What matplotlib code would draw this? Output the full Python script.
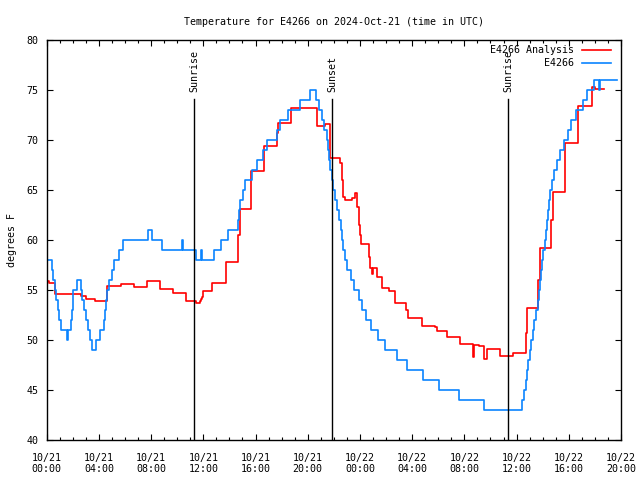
import matplotlib
matplotlib.use("Agg")
import matplotlib.pyplot as plt
from matplotlib.ticker import MultipleLocator

# hours since 2024-10-21 00:00 UTC
obs_hours = [0.00, 0.41, 0.52, 0.64, 0.71, 0.83, 0.97, 1.10, 1.56, 1.66, 1.89, 1.94, 1.98, 2.02,
             2.32, 2.61, 2.70, 2.86, 3.01, 3.16, 3.32, 3.45, 3.78, 4.08, 4.39, 4.47, 4.54, 4.64,
             4.77, 5.00, 5.18, 5.52, 5.87, 7.79, 8.05, 8.81, 10.34, 10.42, 11.42, 11.82, 11.92,
             12.84, 13.36, 13.87, 14.64, 14.71, 14.79, 15.02, 15.20, 15.71, 16.09, 16.60, 16.90,
             17.62, 17.88, 18.51, 19.41, 20.18, 20.64, 20.87, 21.10, 21.25, 21.46, 21.53, 21.61,
             21.71, 21.82, 21.96, 22.11, 22.27, 22.42, 22.53, 22.61, 22.73, 22.86, 23.03, 23.32,
             23.57, 23.95, 24.14, 24.44, 24.83, 25.36, 25.95, 26.82, 27.59, 28.84, 30.08, 31.62,
             33.53, 36.42, 36.57, 36.69, 36.77, 36.88, 37.00, 37.11, 37.23, 37.34, 37.49, 37.61,
             37.69, 37.76, 37.84, 37.93, 38.03, 38.15, 38.26, 38.34, 38.41, 38.49, 38.57, 38.72,
             38.87, 39.08, 39.33, 39.66, 39.92, 40.15, 40.56, 41.07, 41.43, 41.96, 42.28, 42.40,
             43.72]
obs_temps = [58, 57, 56, 55, 54, 53, 52, 51, 50, 51, 52, 53, 54, 55,
             56, 55, 54, 53, 52, 51, 50, 49, 50, 51, 52, 53, 54, 55,
             56, 57, 58, 59, 60, 61, 60, 59, 60, 59, 58, 59, 58,
             59, 60, 61, 62, 63, 64, 65, 66, 67, 68, 69, 70,
             71, 72, 73, 74, 75, 74, 73, 72, 71, 70, 69, 68,
             67, 66, 65, 64, 63, 62, 61, 60, 59, 58, 57, 56,
             55, 54, 53, 52, 51, 50, 49, 48, 47, 46, 45, 44,
             43, 44, 45, 46, 47, 48, 49, 50, 51, 52, 53, 54,
             55, 56, 57, 58, 59, 60, 61, 62, 63, 64, 65, 66,
             67, 68, 69, 70, 71, 72, 73, 74, 75, 76, 75, 76,
             76]

ana_hours = [0.00, 0.20, 0.64, 2.63, 3.01, 3.70, 4.64, 5.67, 6.71, 7.71, 8.68, 9.70, 10.67,
             11.42, 11.71, 11.79, 11.88, 12.00, 12.69, 13.72, 14.68, 14.81, 15.66, 16.65,
             17.65, 17.75, 18.72, 20.74, 21.33, 21.71, 22.47, 22.65, 22.73, 22.86, 23.37,
             23.65, 23.76, 23.91, 24.01, 24.08, 24.70, 24.77, 24.90, 24.98, 25.33, 25.72,
             26.25, 26.69, 27.51, 27.71, 28.74, 29.75, 29.93, 30.65, 31.67, 32.67, 32.74,
             33.10, 33.47, 33.76, 34.74, 35.76, 36.73, 36.78, 37.67, 37.80, 38.64, 38.77,
             39.74, 40.71, 41.76, 42.01, 42.70]
ana_temps = [55.9, 55.7, 54.6, 54.4, 54.1, 53.9, 55.4, 55.6, 55.3, 55.9, 55.1, 54.7, 53.9,
             53.7, 53.9, 54.1, 54.3, 54.9, 55.7, 57.8, 60.5, 63.1, 66.9, 69.4,
             70.7, 71.7, 73.2, 71.4, 71.6, 68.2, 67.7, 66.0, 64.3, 64.0, 64.2,
             64.7, 63.3, 61.5, 60.5, 59.6, 58.3, 57.2, 56.6, 57.2, 56.3, 55.2,
             54.9, 53.7, 53.0, 52.2, 51.4, 51.3, 50.9, 50.3, 49.6, 48.3, 49.5,
             49.4, 48.1, 49.1, 48.4, 48.7, 50.7, 53.2, 56.0, 59.2, 62.0, 64.8,
             69.7, 73.4, 75.3, 75.1, 75.1]

sun_events = ["Sunrise", "Sunset", "Sunrise"]
sun_hours = [11.29, 21.86, 35.35]

tick_hours = [0, 4, 8, 12, 16, 20, 24, 28, 32, 36, 40, 44]
tick_labels = ["10/21\n00:00", "10/21\n04:00", "10/21\n08:00", "10/21\n12:00",
               "10/21\n16:00", "10/21\n20:00", "10/22\n00:00", "10/22\n04:00",
               "10/22\n08:00", "10/22\n12:00", "10/22\n16:00", "10/22\n20:00"]

FONT = "DejaVu Sans Mono"
FS = 7.2
plt.rcParams['font.family'] = [FONT]

fig = plt.figure(figsize=(6.4, 4.8), dpi=100)
ax = fig.add_axes([46.7 / 640, 40 / 480, 574.3 / 640, 400 / 480])

ax.plot(ana_hours, ana_temps, drawstyle='steps-post', color='#ff0000', lw=1.2,
        label='E4266 Analysis')
ax.plot(obs_hours, obs_temps, drawstyle='steps-post', color='#0a84ff', lw=1.2,
        label='E4266')

for name, h in zip(sun_events, sun_hours):
    ax.plot([h, h], [40, 74.05], color='black', lw=1.0)
    ax.text(h, 74.75, name, rotation=90, ha='center', va='bottom',
            fontsize=FS, family=FONT)

ax.set_xlim(0, 44)
ax.set_ylim(40, 80)
ax.set_xticks(tick_hours)
ax.set_xticklabels(tick_labels, fontsize=FS, family=FONT, linespacing=1.25)
ax.xaxis.set_minor_locator(MultipleLocator(1))
ax.set_yticks(range(40, 81, 5))
ax.set_yticklabels([str(v) for v in range(40, 81, 5)], fontsize=FS, family=FONT)
ax.tick_params(which='both', direction='in', top=True, right=True, width=0.8)
ax.tick_params(which='major', length=4)
ax.tick_params(axis='x', which='major', pad=9)
ax.tick_params(axis='y', which='major', pad=6)
ax.tick_params(which='minor', length=2)
for s in ax.spines.values():
    s.set_linewidth(1.0)

ax.set_ylabel('degrees F', fontsize=FS, family=FONT, labelpad=7)
ax.set_title('Temperature for E4266 on 2024-Oct-21 (time in UTC)', fontsize=FS,
             family=FONT, pad=11)

leg = ax.legend(loc='upper right', bbox_to_anchor=(1.0, 1.0125), frameon=False,
                markerfirst=False, handlelength=2.9, borderaxespad=0.75, borderpad=0.3,
                labelspacing=0.3, handletextpad=0.75, prop={'family': FONT, 'size': FS})

fig.savefig('out.png', dpi=100)
